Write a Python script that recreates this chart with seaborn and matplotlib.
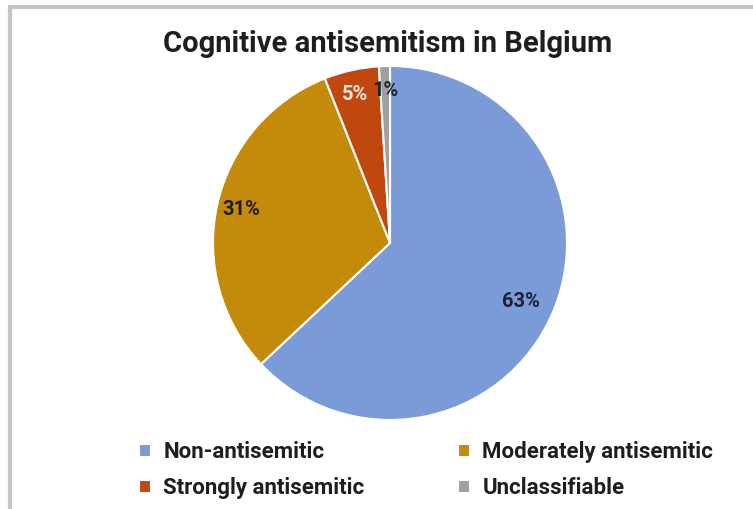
import matplotlib
matplotlib.use("Agg")
import matplotlib.pyplot as plt
import seaborn as sns
from matplotlib.patches import Rectangle

categories = ["Non-antisemitic", "Moderately antisemitic", "Strongly antisemitic", "Unclassifiable"]
shares = [63, 31, 5, 1]
colors = ["#7b9ad8", "#c48a0a", "#c0480f", "#a0a0a0"]
label_colors = ["#1c2233", "#1c1c1c", "#f3e6dc", "#1c2233"]

sns.set_theme(style="white")
plt.rcParams['font.family'] = ['Roboto', 'DejaVu Sans']

fig = plt.figure(figsize=(7.53, 5.09), dpi=100)
fig.patch.set_facecolor("white")

# grey frame, partly cut off on the right and bottom
fig.add_artist(Rectangle((10 / 753, -0.1), 1.2, 1.1 - 7 / 509, transform=fig.transFigure,
                         fill=False, edgecolor="#c4c4c4", linewidth=3))

ax = fig.add_axes([0.2829, 0.1749, 0.4701, 0.6955])
wedges, texts, autotexts = ax.pie(
    shares, colors=sns.color_palette(colors), startangle=90, counterclock=False,
    autopct="%d%%", pctdistance=0.86,
    wedgeprops=dict(edgecolor="white", linewidth=1.5),
    textprops=dict(fontsize=14.5, fontweight="bold"))
ax.set_xlim(-1, 1)
ax.set_ylim(-1, 1)
for w in wedges:
    w.set_clip_on(False)
for t, c in zip(autotexts, label_colors):
    t.set_color(c)
# 63% label sits a bit closer to the centre
x, y = autotexts[0].get_position()
autotexts[0].set_position((x * 0.94, y * 0.96))
x, y = autotexts[2].get_position()
autotexts[2].set_position((x * 1.05, y))

fig.text(0.515, 0.914, "Cognitive antisemitism in Belgium", ha="center", va="center",
         fontsize=21, fontweight="bold", color="#1e1e1e")

# legend fills row by row in the reference
order = [0, 2, 1, 3]
leg = fig.legend([wedges[i] for i in order], [categories[i] for i in order],
                 loc="center", bbox_to_anchor=(0.566, 0.076), ncol=2,
                 frameon=False, handlelength=0.55, handleheight=0.55, handletextpad=0.55,
                 columnspacing=4.2, labelspacing=0.62,
                 prop=dict(size=16, weight="bold"))
for t in leg.get_texts():
    t.set_color("#1e1e1e")

fig.savefig("out.png", dpi=100)
